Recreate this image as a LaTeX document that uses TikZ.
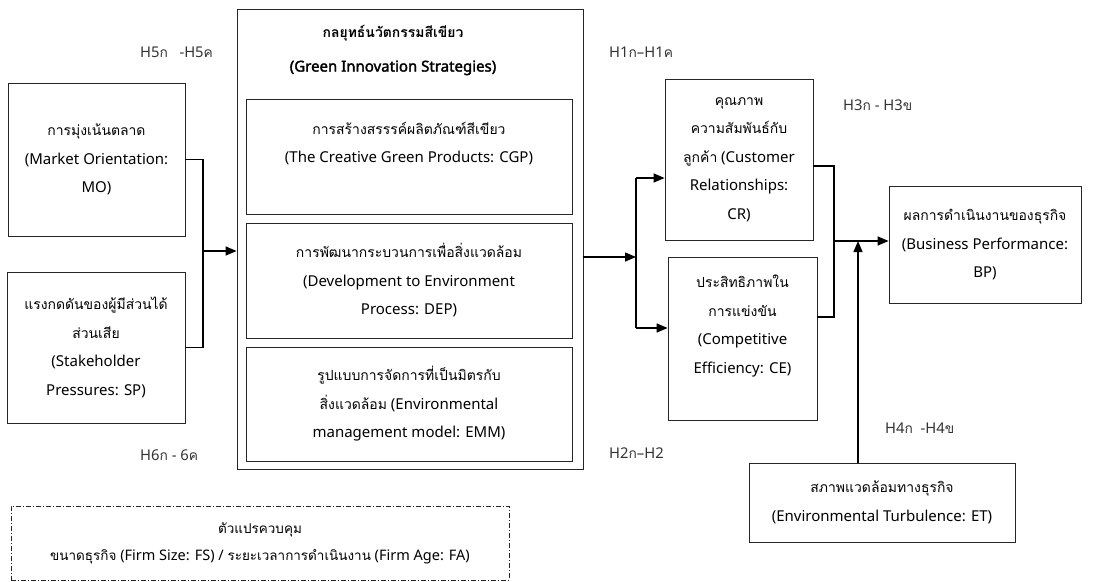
\documentclass[tikz,border=0pt]{standalone}
\usepackage{fontspec}
\setmainfont{Noto Sans}[AutoFakeBold=2.2]
\newfontfamily\thai[Script=Thai,Scale=0.93]{Loma}
\usetikzlibrary{arrows.meta}

\begin{document}
\begin{tikzpicture}[x=1pt,y=-1pt,>={Triangle[length=11pt,width=9pt]},
    box/.style={draw=black!85,line width=0.8pt,inner sep=0pt,align=center,
                font=\fontsize{15}{28.5}\selectfont},
    link/.style={line width=1.3pt},
    hlabel/.style={anchor=west,inner sep=0pt,text=black!80,font=\fontsize{14.8}{16}\selectfont}]

  \useasboundingbox (0,0) rectangle (1118,581);

  % independent variables
  \node[box,minimum width=177,minimum height=153] (mo) at (96.5,159.5)
    {{\thai การมุ่งเน้นตลาด}\\(Market Orientation:\\MO)};
  \node[box,minimum width=178,minimum height=151] (sp) at (96,347.5)
    {{\thai แรงกดดันของผู้มีส่วนได้}\\{\thai ส่วนเสีย}\\(Stakeholder\\Pressures: SP)};

  % green innovation strategies
  \node[box,minimum width=346,minimum height=460] (gis) at (410,239) {};
  \node[align=center,inner sep=0pt,font=\fontsize{15}{28.5}\selectfont\bfseries]
    (gistitle) at (393,50) {{\thai กลยุทธ์นวัตกรรมสีเขียว}\\[6pt](Green Innovation Strategies)};
  \node[box,minimum width=326,minimum height=115] (cgp) at (409,156.5)
    {{\thai การสร้างสรรรค์ผลิตภัณฑ์สีเขียว}\\(The Creative Green Products: CGP)\\\mbox{}};
  \node[box,minimum width=326,minimum height=115] (dep) at (409,280.5)
    {{\thai การพัฒนากระบวนการเพื่อสิ่งแวดล้อม}\\(Development to Environment\\Process: DEP)};
  \node[box,minimum width=326,minimum height=114] (emm) at (409,404)
    {{\thai รูปแบบการจัดการที่เป็นมิตรกับ}\\{\thai สิ่งแวดล้อม} (Environmental\\management model: EMM)};

  % mediators and outcome
  \node[box,minimum width=148,minimum height=161] (cr) at (739,159.5)
    {{\thai คุณภาพ}\\{\thai ความสัมพันธ์กับ}\\{\thai ลูกค้า} (Customer\\Relationships:\\CR)};
  \node[box,minimum width=149,minimum height=163] (ce) at (742.5,338.5)
    {{\thai ประสิทธิภาพใน}\\{\thai การแข่งขัน}\\(Competitive\\Efficiency: CE)\\\mbox{}};
  \node[box,minimum width=192,minimum height=117] (bp) at (985,244.5)
    {{\thai ผลการดำเนินงานของธุรกิจ}\\(Business Performance:\\BP)};
  \node[box,minimum width=266,minimum height=79] (et) at (882,502.5)
    {{\thai สภาพแวดล้อมทางธุรกิจ}\\(Environmental Turbulence: ET)};

  % control variables
  \node[box,line width=0.7pt,dash pattern=on 5pt off 2pt on 1pt off 2pt,
        minimum width=498,minimum height=74,font=\fontsize{14.5}{27}\selectfont] (ctrl) at (260,543)
    {{\thai ตัวแปรควบคุม}\\{\thai ขนาดธุรกิจ} (Firm Size: FS) / {\thai ระยะเวลาการดำเนินงาน} (Firm Age: FA)};

  % hypothesis labels
  \node[hlabel] (h5) at (140,52) {H5{\thai ก}\ \ \ -H5{\thai ค}};
  \node[hlabel] (h6) at (140,455) {H6{\thai ก} - 6{\thai ค}};
  \node[hlabel] (h1) at (609,52) {H1{\thai ก}–H1{\thai ค}};
  \node[hlabel] (h2) at (609,453) {H2{\thai ก}–H2};
  \node[hlabel] (h3) at (843,105) {H3{\thai ก} - H3{\thai ข}};
  \node[hlabel] (h4) at (885,428) {H4{\thai ก}\ \ -H4{\thai ข}};

  % junctions
  \coordinate (j1) at (203,251);
  \coordinate (j2) at (636,257);
  \coordinate (j2t) at (636,178);
  \coordinate (j2b) at (636,328);
  \coordinate (j3) at (834,241);
  \coordinate (j3t) at (834,166);
  \coordinate (j3b) at (834,317);
  \coordinate (j4) at (858,241);

  \draw[link] (mo.east) -| (j1) |- (sp.east);
  \draw[link,->] (j1) -- (j1 -| gis.west);
  \draw[link,->] (j2 -| gis.east) -- (j2);
  \draw[link] (j2t) -- (j2b);
  \draw[link,->] (j2t) -- (j2t -| cr.west);
  \draw[link,->] (j2b) -- (j2b -| ce.west);
  \draw[link] (j3t -| cr.east) -- (j3t) -- (j3b) -- (j3b -| ce.east);
  \draw[link,->] (j3) -- (j3 -| bp.west);
  \draw[link,->] (j4 |- et.north) -- (j4);
\end{tikzpicture}
\end{document}
